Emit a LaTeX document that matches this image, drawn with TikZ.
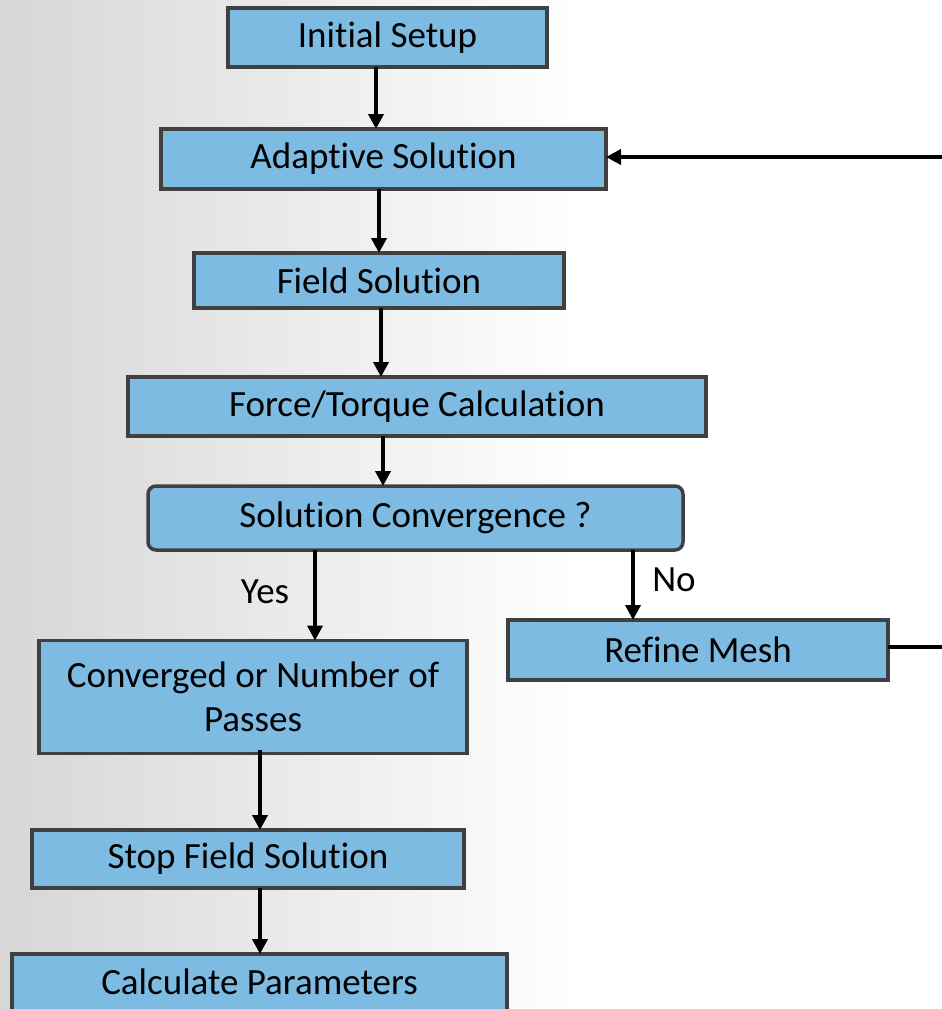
\documentclass[tikz,border=0pt]{standalone}
\usepackage{fontspec}
\setmainfont{Carlito}[Ligatures=NoCommon]
\usetikzlibrary{arrows.meta}
\definecolor{boxfill}{RGB}{126,187,227}
\definecolor{boxline}{RGB}{64,64,64}
\tikzset{
  stepbox/.style={draw=boxline, fill=boxfill, line width=3.5pt, inner sep=0pt, outer sep=0pt,
    font=\fontsize{37}{44}\selectfont, align=center, text=black},
  flow/.style={line width=4pt, -{Triangle[width=15pt,length=15pt]}, black},
  plainline/.style={line width=4pt, black},
  lbl/.style={font=\fontsize{37}{44}\selectfont, inner sep=0pt}
}
\begin{document}
\begin{tikzpicture}[x=1pt,y=-1pt]
\useasboundingbox (0,0) rectangle (942,1009);
\clip (0,0) rectangle (942,1009);
\shade[left color=black!16, right color=white] (0,0) rectangle (580,1009);
\fill[white] (580,0) rectangle (942,1009);

\node[stepbox, minimum width=319pt, minimum height=59pt] (init) at (387.5,37.5) {Initial Setup};
\node[stepbox, minimum width=445pt, minimum height=60pt] (adapt) at (383.5,159) {Adaptive Solution};
\node[stepbox, minimum width=370pt, minimum height=55pt] (field) at (379,280.5) {Field Solution};
\node[stepbox, minimum width=578pt, minimum height=59pt] (force) at (417,406.5) {Force/Torque Calculation};
\node[stepbox, rounded corners=8pt, minimum width=535pt, minimum height=64pt] (conv) at (415.5,518) {Solution Convergence ?};
\node[stepbox, minimum width=380pt, minimum height=60pt] (refine) at (698,650) {Refine Mesh};
\node[stepbox, minimum width=428pt, minimum height=113pt] (passes) at (253,697) {Converged or Number of\\Passes};
\node[stepbox, minimum width=432pt, minimum height=58pt] (stop) at (248,859) {Stop Field Solution};
\node[stepbox, minimum width=495pt, minimum height=90pt] (calc) at (259.5,999) {};
\node[font=\fontsize{37}{44}\selectfont, anchor=base] (calctext) at (259.5,994) {Calculate Parameters};

\node[lbl] (yes) at (265,592) {Yes};
\node[lbl] (no) at (674,580) {No};

\coordinate (r1) at (960,647);
\coordinate (r2) at (960,157);

\draw[flow] (init.south -| 376,0) -- (adapt.north -| 376,0);
\draw[flow] (adapt.south -| 379,0) -- (field.north -| 379,0);
\draw[flow] (field.south -| 381,0) -- (force.north -| 381,0);
\draw[flow] (force.south -| 383,0) -- (conv.north -| 383,0);
\draw[flow] (conv.south -| 315,0) -- (passes.north -| 315,0);
\draw[flow] (conv.south -| 633,0) -- (refine.north -| 633,0);
\draw[flow] ([yshift=4pt]passes.south -| 260,0) -- (stop.north -| 260,0);
\draw[flow] (stop.south -| 260,0) -- (calc.north -| 260,0);
\draw[plainline] (refine.east |- r1) -- (r1) -- (r2);
\draw[flow] (r2) -- (adapt.east |- r2);
\end{tikzpicture}
\end{document}
